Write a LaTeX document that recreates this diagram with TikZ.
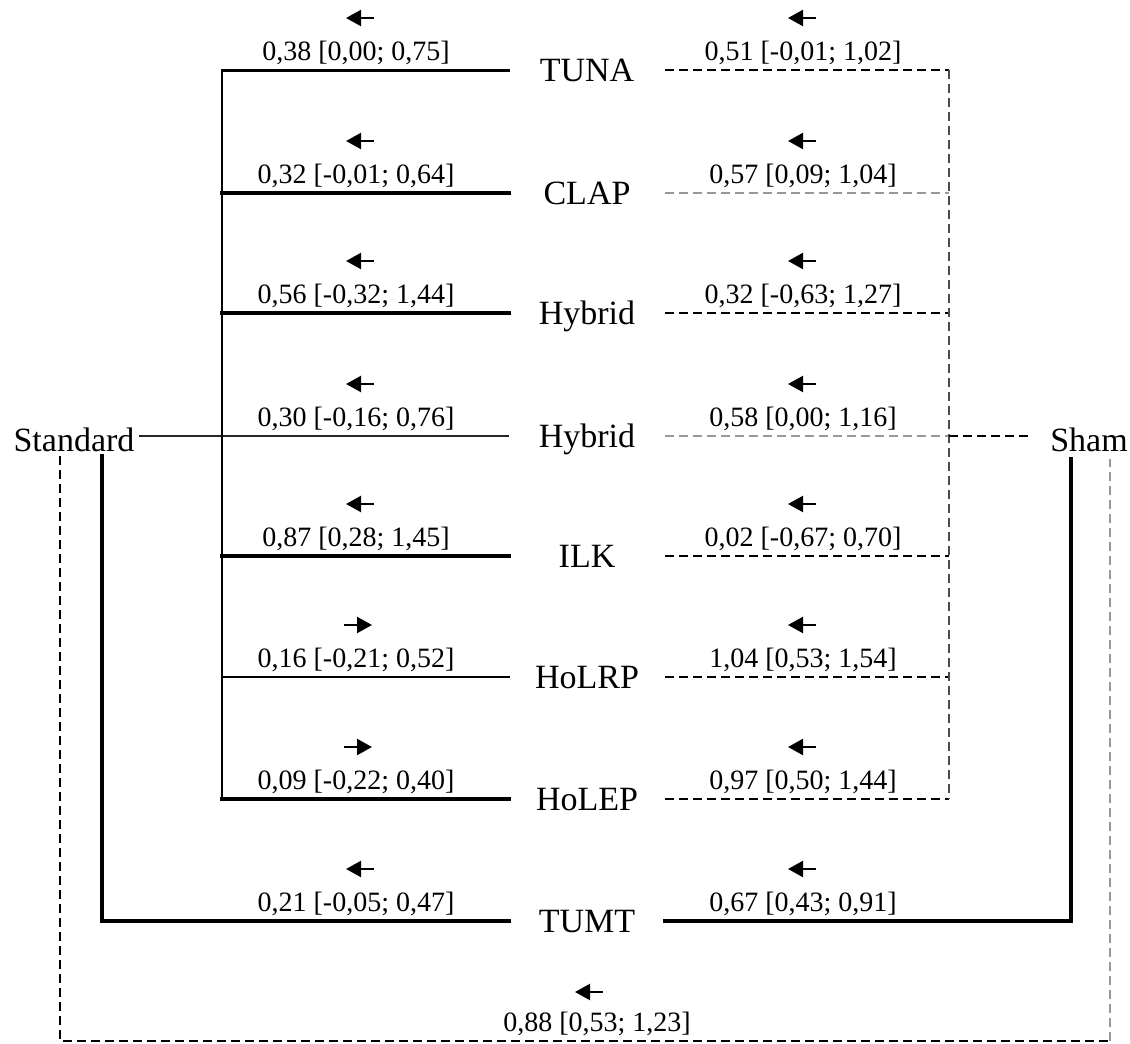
\documentclass[tikz,border=0pt]{standalone}
\usepackage{fontspec}
\setmainfont{Liberation Serif}
\usetikzlibrary{arrows.meta}
\begin{document}
\begin{tikzpicture}[x=1pt,y=-1pt,
  treat/.style={font=\fontsize{34}{40}\selectfont, inner sep=0pt, minimum width=156pt, text height=23pt, text depth=0pt},
  side/.style={font=\fontsize{34}{40}\selectfont, inner xsep=4pt, inner ysep=3pt, text height=30pt, text depth=0pt},
  num/.style={font=\fontsize{28}{32}\selectfont, inner sep=0pt, anchor=base},
  arr/.style={line width=2.2pt, -{Triangle[length=15pt,width=16pt]}},
  sol/.style={line cap=rect, draw=black},
  dsh/.style={dash pattern=on 9pt off 5pt, line width=2.3pt, draw=black},
  dshg/.style={dash pattern=on 9pt off 5pt, line width=2.3pt, draw=black!40},
]
\useasboundingbox (0,0) rectangle (1130,1044);

% treatment nodes
\node[treat] (tuna)  at (587,70)  {TUNA};
\node[treat] (clap)  at (587,193) {CLAP};
\node[treat] (hyba)  at (587,313) {Hybrid};
\node[treat] (hybb)  at (587,436) {Hybrid};
\node[treat] (ilk)   at (587,556) {ILK};
\node[treat] (holrp) at (587,677) {HoLRP};
\node[treat] (holep) at (587,799) {HoLEP};
\node[treat] (tumt)  at (587,921) {TUMT};

\node[side] (std)  at (74,436)   {Standard};
\node[side] (sham) at (1089,436) {Sham};

% helper coordinates
\coordinate (barx) at (222,0);
\coordinate (rbx)  at (949,0);
\coordinate (sl)   at (102,456);
\coordinate (sd)   at (60,456);
\coordinate (shs)  at (1071,459);
\coordinate (shd)  at (1110,459);
\coordinate (bot)  at (597,1041);

% left solid lines
\draw[sol, line width=3pt]   (tuna.west)  -- (tuna.west -| barx);
\draw[sol, line width=4pt]   (clap.west)  -- (clap.west -| barx);
\draw[sol, line width=4pt]   (hyba.west)  -- (hyba.west -| barx);
\draw[line width=2.2pt, draw=black!85] (std.east) -- (hybb.west);
\draw[sol, line width=4.5pt] (ilk.west)   -- (ilk.west -| barx);
\draw[sol, line width=2.8pt] (holrp.west) -- (holrp.west -| barx);
\draw[sol, line width=4pt]   (holep.west) -- (holep.west -| barx);
\draw[sol, line width=2.8pt] (tuna.west -| barx) -- (holep.west -| barx);

% right dashed lines
\draw[dsh]  (tuna.east)  -- (tuna.east -| rbx);
\draw[dshg] (clap.east)  -- (clap.east -| rbx);
\draw[dsh, line width=2.8pt] (hyba.east) -- (hyba.east -| rbx);
\draw[dshg] (hybb.east)  -- (hybb.east -| rbx);
\draw[dsh]  (ilk.east)   -- (ilk.east -| rbx);
\draw[dsh]  (holrp.east) -- (holrp.east -| rbx);
\draw[dsh, line width=2pt] (holep.east) -- (holep.east -| rbx);
\draw[dash pattern=on 9pt off 5pt, line width=2.3pt, draw=black!70] (tuna.east -| rbx) -- (holep.east -| rbx);
\draw[dsh] (hybb.east -| rbx) -- ([xshift=-14pt]sham.west);

% TUMT links
\draw[sol, line width=4.5pt] (sl) -- (sl |- tumt) -- (tumt.west);
\draw[sol, line width=4.5pt] (tumt.east) -- (tumt.east -| shs) -- (shs);

% Standard-Sham dashed link
\draw[dsh] (sd) -- (sd |- bot) -- (bot -| shd);
\draw[dshg] (bot -| shd) -- (shd);

% left labels
\node[num] (l1) at (356,60)  {0,38 [0,00; 0,75]};
\node[num] (l2) at (356,183) {0,32 [-0,01; 0,64]};
\node[num] (l3) at (356,303) {0,56 [-0,32; 1,44]};
\node[num] (l4) at (356,426) {0,30 [-0,16; 0,76]};
\node[num] (l5) at (356,546) {0,87 [0,28; 1,45]};
\node[num] (l6) at (356,667) {0,16 [-0,21; 0,52]};
\node[num] (l7) at (356,789) {0,09 [-0,22; 0,40]};
\node[num] (l8) at (356,911) {0,21 [-0,05; 0,47]};

% right labels
\node[num] (r1) at (803,60)  {0,51 [-0,01; 1,02]};
\node[num] (r2) at (803,183) {0,57 [0,09; 1,04]};
\node[num] (r3) at (803,303) {0,32 [-0,63; 1,27]};
\node[num] (r4) at (803,426) {0,58 [0,00; 1,16]};
\node[num] (r5) at (803,546) {0,02 [-0,67; 0,70]};
\node[num] (r6) at (803,667) {1,04 [0,53; 1,54]};
\node[num] (r7) at (803,789) {0,97 [0,50; 1,44]};
\node[num] (r8) at (803,911) {0,67 [0,43; 0,91]};

\node[num] (lb) at (597,1031) {0,88 [0,53; 1,23]};

% direction arrows
\foreach \n in {l1,l2,l3,l4,l5,l8}
  \draw[arr] ([shift={(18,-42)}]\n.base) -- ++(-28,0);
\foreach \n in {l6,l7}
  \draw[arr] ([shift={(-12,-42)}]\n.base) -- ++(28,0);
\foreach \n in {r1,r2,r3,r4,r5,r6,r7,r8}
  \draw[arr] ([shift={(13,-42)}]\n.base) -- ++(-28,0);
\draw[arr] ([shift={(6,-39)}]lb.base) -- ++(-28,0);
\end{tikzpicture}
\end{document}
